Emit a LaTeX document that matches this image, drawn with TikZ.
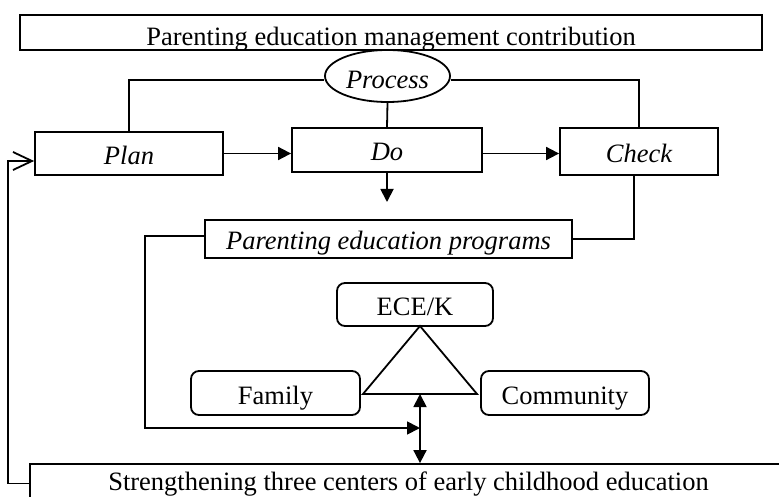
\documentclass[tikz,border=0pt]{standalone}
\usepackage{fontspec}
\setmainfont{Liberation Serif}
\usetikzlibrary{arrows.meta,shapes.geometric}

\begin{document}
\begin{tikzpicture}[x=1pt, y=-1pt, line width=1.8pt,
  every node/.style = {inner sep=0pt, font=\fontsize{26.5}{30}\selectfont, text height=22pt, text depth=0pt},
  box/.style = {draw, rectangle, minimum width=#1},
  rbox/.style = {draw, rectangle, rounded corners=8pt, minimum width=#1, minimum height=44pt},
  ital/.style = {font=\fontsize{26.5}{30}\selectfont\itshape},
  flow/.style = {-{Triangle[length=13pt, width=13pt]}},
  ]
  \useasboundingbox (0,0) rectangle (779,497);

  \node[box=742pt, minimum height=35pt, text height=27pt] (title) at (391,32.5) {Parenting education management contribution};
  \node[draw, ellipse, fill=white, minimum width=125pt, minimum height=52pt, text height=26pt, ital] (process) at (387.5,76) {Process};
  \node[box=188pt, minimum height=43pt, ital] (plan) at (129,153.5) {Plan};
  \node[box=190pt, minimum height=44pt, ital] (do) at (387,150) {Do};
  \node[box=158pt, minimum height=47pt, ital] (check) at (639,151.5) {Check};
  \node[box=367pt, minimum height=38pt, ital] (programs) at (388.5,239) {Parenting education programs};
  \node[rbox=156pt, minimum height=43pt] (ece) at (415,304.5) {ECE/K};
  \node[rbox=169pt] (family) at (275.5,393) {Family};
  \node[rbox=168pt] (community) at (565,393) {Community};
  \node[box=757pt, minimum height=39pt, text height=13pt] (centers) at (408.5,483.5) {Strengthening three centers of early childhood education};

  \coordinate (apex) at (420,326);
  \coordinate (baseL) at (363,394);
  \coordinate (baseR) at (477,394);
  \coordinate (dotip) at (387,202);
  \coordinate (elbow) at (145,428);
  \coordinate (loop) at (8,161);

  \draw (apex) -- (baseR) -- (baseL) -- cycle;
  \draw ([yshift=-4pt]process.west) -| (plan.north);
  \draw ([yshift=-4pt]process.east) -| (check.north);
  \draw (process.south) -- (do.north);
  \draw[flow] (plan.east) -- (plan.east -| do.west);
  \draw[flow] (do.east |- plan.east) -- (check.west |- plan.east);
  \draw[flow] (do.south) -- (dotip);
  \draw ([xshift=-5pt]check.south) |- (programs.east);
  \draw[flow] ([yshift=3pt]programs.west) -| (elbow) -- (elbow -| apex);
  \draw[{Triangle[length=13pt, width=13pt]}-{Triangle[length=13pt, width=13pt]}] (apex |- baseL) -- (apex |- centers.north);
  \draw[-{Straight Barb[length=19pt, width=18pt]}] (centers.west) -| (loop) -- ([yshift=-7.5pt]plan.west);
\end{tikzpicture}
\end{document}
